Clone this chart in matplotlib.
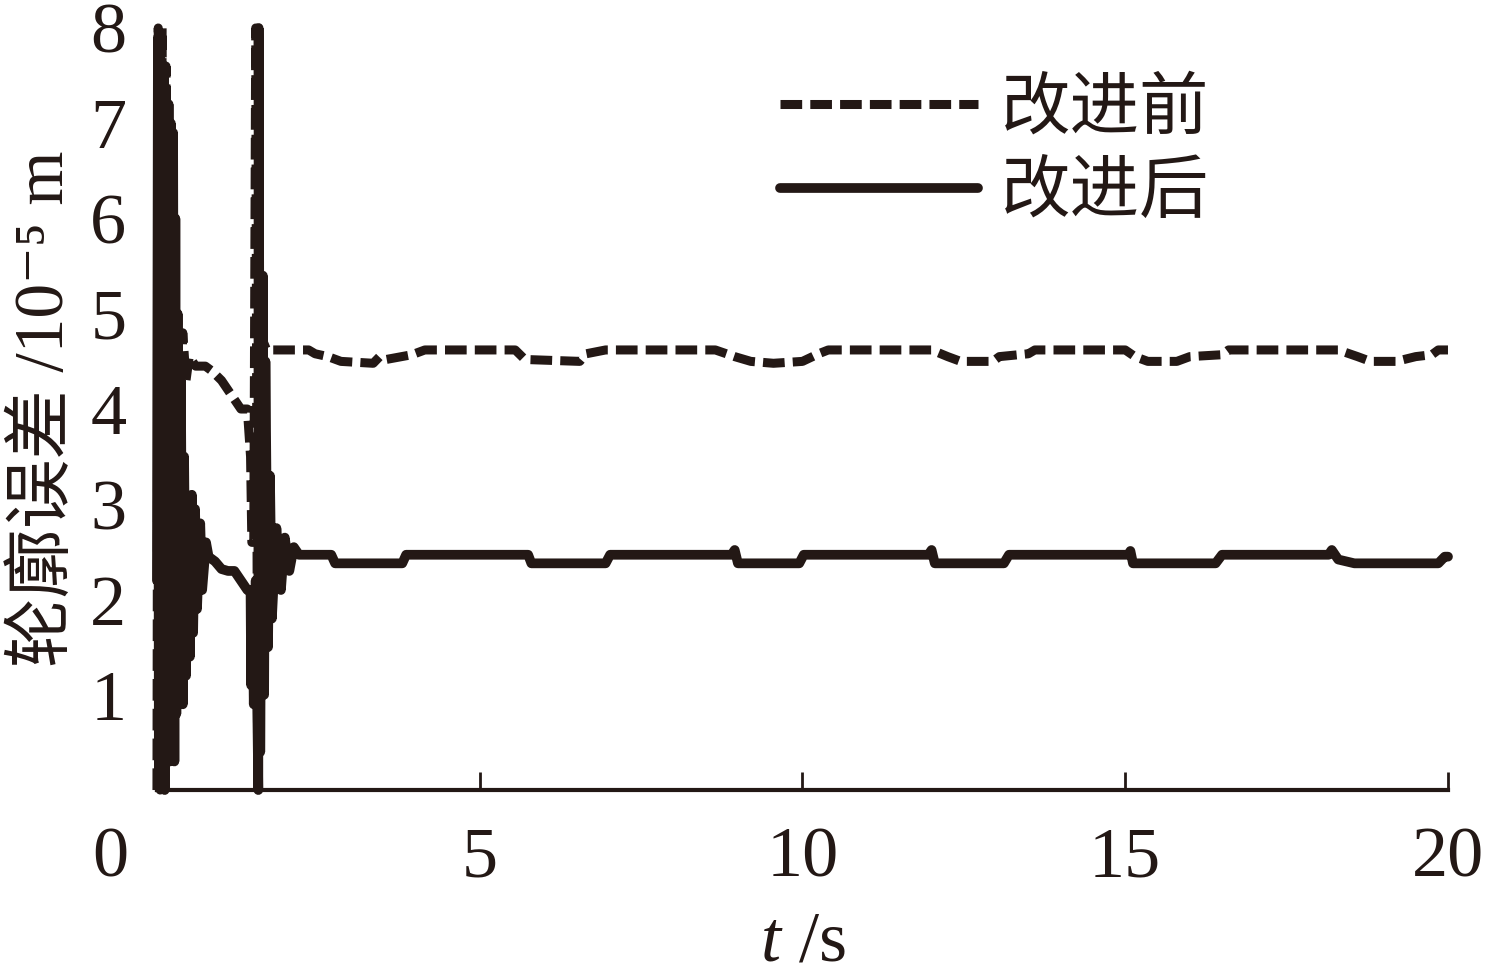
import matplotlib
matplotlib.use("Agg")
import matplotlib.pyplot as plt
from matplotlib.transforms import ScaledTranslation

plt.rcParams['font.family'] = ['Liberation Serif', 'Noto Sans CJK SC', 'DejaVu Serif']
plt.rcParams['mathtext.fontset'] = 'custom'
plt.rcParams['mathtext.rm'] = 'Liberation Serif'
plt.rcParams['mathtext.it'] = 'Liberation Serif:italic'

ink = '#231815'

# 改进前 (dashed)
t_before = [0.00, 0.02, 0.05, 0.08, 0.11, 0.14, 0.17, 0.20, 0.23, 0.26, 0.29, 0.32,
            0.36, 0.40, 0.45, 0.50, 0.60, 0.75, 0.85, 1.00, 1.15, 1.30, 1.40, 1.45,
            1.47, 1.50, 1.53, 1.56, 1.59, 1.62, 1.65, 1.70,
            2.35, 2.45, 2.65, 2.85, 3.35, 3.45, 3.55, 3.95, 4.15,
            5.55, 5.70, 6.55, 6.65, 6.95,
            8.65, 8.95, 9.20, 9.55, 10.00, 10.25, 10.40,
            12.00, 12.25, 12.45, 12.95, 13.05, 13.50, 13.60,
            15.00, 15.15, 15.35, 15.80, 16.00, 16.50, 16.60,
            18.30, 18.60, 18.80, 19.20, 19.50, 19.75, 19.85, 20.00]
e_before = [0.0, 8.0, 0.0, 8.0, 0.2, 7.6, 0.5, 6.8, 1.2, 5.8, 2.5, 5.0,
            3.8, 4.8, 4.3, 4.55, 4.45, 4.45, 4.4, 4.3, 4.15, 4.0, 4.0, 3.5,
            2.6, 2.6, 8.0, 0.0, 5.0, 4.3, 4.7, 4.62,
            4.62, 4.58, 4.55, 4.50, 4.48, 4.55, 4.52, 4.57, 4.62,
            4.62, 4.52, 4.50, 4.58, 4.62,
            4.62, 4.55, 4.50, 4.48, 4.50, 4.58, 4.62,
            4.62, 4.55, 4.50, 4.50, 4.55, 4.58, 4.62,
            4.62, 4.55, 4.50, 4.50, 4.55, 4.57, 4.62,
            4.62, 4.55, 4.50, 4.50, 4.55, 4.57, 4.62, 4.62]

# 改进后 (solid)
t_after = [0.00, 0.015, 0.03, 0.045, 0.06, 0.075, 0.09, 0.105, 0.12, 0.14, 0.16, 0.18,
           0.20, 0.215, 0.23, 0.25, 0.27, 0.285, 0.30, 0.32, 0.34, 0.37, 0.40, 0.42,
           0.45, 0.48, 0.51, 0.54, 0.56, 0.59, 0.62, 0.67, 0.70, 0.76, 0.80, 0.90,
           1.00, 1.10, 1.20, 1.30, 1.40, 1.45, 1.46, 1.48, 1.50, 1.53, 1.57, 1.575,
           1.60, 1.64, 1.66, 1.68, 1.72, 1.75, 1.78, 1.85, 1.92, 1.98, 2.05, 2.12,
           2.20,
           2.70, 2.76, 3.80, 3.86, 5.75, 5.80, 6.95, 7.02,
           8.90, 8.95, 9.00, 9.95, 10.02, 11.95, 12.00, 12.05, 13.12, 13.20,
           15.05, 15.08, 15.12, 16.40, 16.50, 18.15, 18.20, 18.30, 18.55, 19.85,
           19.95, 20.00]
e_after = [2.2, 7.9, 0.1, 7.8, 0.2, 7.6, 0.3, 7.5, 0.0, 7.3, 0.4, 7.2,
           0.3, 7.0, 0.5, 6.9, 0.3, 6.0, 0.8, 5.0, 0.9, 4.3, 0.9, 3.5,
           1.2, 3.0, 1.4, 3.1, 1.65, 2.95, 1.9, 2.8, 2.1, 2.6, 2.45, 2.4,
           2.32, 2.3, 2.3, 2.2, 2.1, 2.1, 1.1, 2.1, 0.9, 2.2, 0.0, 8.0,
           0.4, 5.4, 1.0, 4.5, 1.5, 3.3, 1.8, 2.75, 2.1, 2.65, 2.3, 2.55,
           2.47,
           2.47, 2.38, 2.38, 2.47, 2.47, 2.38, 2.38, 2.47,
           2.47, 2.52, 2.38, 2.38, 2.47, 2.47, 2.52, 2.38, 2.38, 2.47,
           2.47, 2.51, 2.38, 2.38, 2.47, 2.47, 2.52, 2.42, 2.38, 2.38,
           2.45, 2.45]

fig = plt.figure(figsize=(14.92, 9.75), dpi=100)
ax = fig.add_axes([0.1052, 0.1897, 0.8653, 0.7816])

ax.plot(t_after, e_after, color=ink, lw=7, solid_joinstyle='round',
        solid_capstyle='round', label='改进后', clip_on=False, zorder=2)
ax.plot(t_before, e_before, color=ink, lw=6.5, dashes=(2.4, 0.9),
        label='改进前', clip_on=False, zorder=3)

ax.set_xlim(0, 20)
ax.set_ylim(0, 8)
ax.set_xticks([0, 5, 10, 15, 20])
ax.set_xticklabels(['0', '5', '10', '15', '20'])
ax.set_yticks([1, 2, 3, 4, 5, 6, 7, 8])
ax.tick_params(axis='x', direction='in', length=13, width=2, pad=26,
               labelsize=52, colors=ink)
ax.tick_params(axis='y', length=0, pad=22, labelsize=52, colors=ink)
lab0 = ax.get_xticklabels()[0]
lab0.set_transform(lab0.get_transform() + ScaledTranslation(-0.47, 0, fig.dpi_scale_trans))

for s in ['top', 'right']:
    ax.spines[s].set_visible(False)
for s in ['left', 'bottom']:
    ax.spines[s].set_linewidth(3)
    ax.spines[s].set_color(ink)

ax.set_xlabel('$t$ /s', fontsize=52, color=ink, labelpad=14)
ax.set_ylabel('轮廓误差 /10⁻⁵ m', fontsize=50, color=ink, labelpad=9)

h, l = ax.get_legend_handles_labels()
fig.legend(h[::-1], l[::-1], loc='upper left', bbox_to_anchor=(0.523, 0.918),
           frameon=False, fontsize=50, handlelength=2.85, handletextpad=0.33,
           labelspacing=0.28, borderpad=0, borderaxespad=0, labelcolor=ink)

fig.savefig('out.png', dpi=100)
